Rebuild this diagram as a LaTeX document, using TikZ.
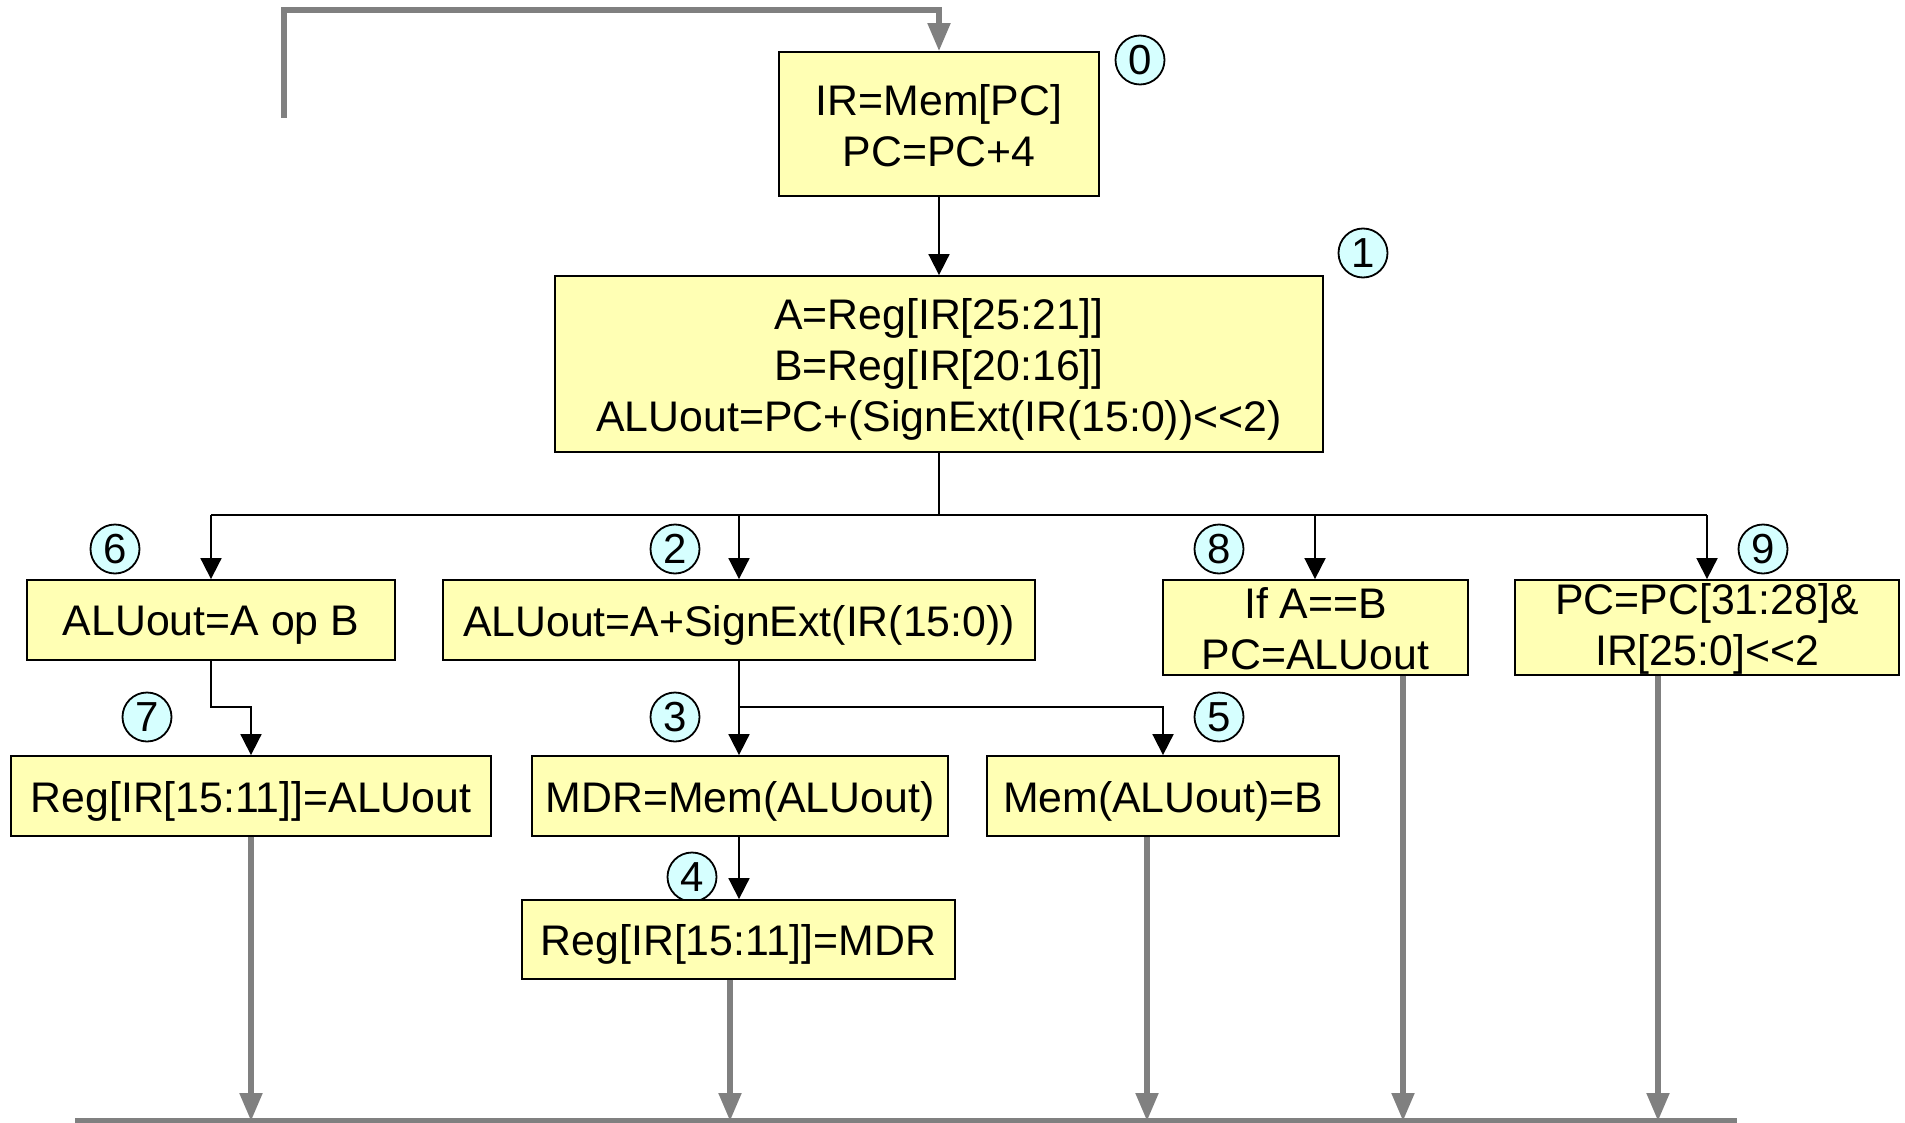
\documentclass[tikz,border=0pt]{standalone}
\usepackage{fontspec}
\setmainfont{Liberation Sans}
\usetikzlibrary{arrows.meta}
\definecolor{boxyellow}{RGB}{255,255,180}
\definecolor{circcyan}{RGB}{214,255,255}
\definecolor{flowgray}{RGB}{128,128,128}
\begin{document}
\begin{tikzpicture}[x=0.5pt,y=-0.5pt,
  statebox/.style={draw=black, line width=0.9pt, fill=boxyellow, inner sep=0pt},
  boxtext/.style={inner sep=0pt, align=center, font=\fontsize{21.4}{25.5}\selectfont},
  stepnum/.style={circle, draw=black, line width=0.9pt, fill=circcyan, minimum size=24.5pt, inner sep=0pt,
    font=\fontsize{21}{25}\selectfont},
  blk/.style={draw=black, line width=0.9pt},
  blkarrow/.style={blk, -{Triangle[width=10.5pt,length=10.5pt]}},
  grayline/.style={draw=flowgray, line width=2.6pt},
  grayarrow/.style={grayline, -{Triangle[width=11pt,length=14pt]}}
]
\useasboundingbox (0,0) rectangle (1905,1123);

% step numbers
\node[stepnum] (c0) at (1140,60) {0};
\node[stepnum] (c1) at (1363,253) {1};
\node[stepnum] (c6) at (115,549) {6};
\node[stepnum] (c2) at (675,549) {2};
\node[stepnum] (c8) at (1219,549) {8};
\node[stepnum] (c9) at (1763,549) {9};
\node[stepnum] (c7) at (147,717) {7};
\node[stepnum] (c3) at (675,717) {3};
\node[stepnum] (c5) at (1219,717) {5};
\node[stepnum] (c4) at (692,877) {4};

% boxes
\node[statebox, minimum width=160pt, minimum height=72pt] (b0) at (939,124) {};
\node[statebox, minimum width=384pt, minimum height=88pt] (b1) at (939,364) {};
\node[statebox, minimum width=184pt, minimum height=40pt] (b6) at (211,620) {};
\node[statebox, minimum width=296pt, minimum height=40pt] (b2) at (739,620) {};
\node[statebox, minimum width=152.5pt, minimum height=47.5pt] (b8) at (1315.5,627.5) {};
\node[statebox, minimum width=192pt, minimum height=47.5pt] (b9) at (1707,627.5) {};
\node[statebox, minimum width=240pt, minimum height=40pt] (b7) at (251,796) {};
\node[statebox, minimum width=208pt, minimum height=40pt] (b3) at (740,796) {};
\node[statebox, minimum width=176pt, minimum height=40pt] (b5) at (1163,796) {};
\node[statebox, minimum width=216.5pt, minimum height=39.5pt] (b4) at (738.5,939.5) {};

% box texts
\node[boxtext] (t0) at ([yshift=-0.8pt]b0.center) {IR=Mem[PC]\\PC=PC+4};
\node[boxtext] (t1) at ([yshift=-2.5pt]b1.center)
  {A=Reg[IR[25:21]]\\B=Reg[IR[20:16]]\\ALUout=PC+(SignExt(IR(15:0))<{}<2)};
\node[boxtext] (t6) at ([yshift=-2.5pt]b6.center) {ALUout=A op B};
\node[boxtext] (t2) at ([yshift=-2.5pt]b2.center) {ALUout=A+SignExt(IR(15:0))};
\node[boxtext] (t8) at ([yshift=-0.8pt]b8.center) {If A==B\\PC=ALUout};
\node[boxtext] (t9) at ([yshift=-0.8pt]b9.center) {PC=PC[31:28]\&\\IR[25:0]<{}<2};
\node[boxtext] (t7) at ([yshift=-2.5pt]b7.center) {Reg[IR[15:11]]=ALUout};
\node[boxtext] (t3) at ([yshift=-2.5pt]b3.center) {MDR=Mem(ALUout)};
\node[boxtext] (t5) at ([yshift=-2.5pt]b5.center) {Mem(ALUout)=B};
\node[boxtext] (t4) at ([yshift=-2.5pt]b4.center) {Reg[IR[15:11]]=MDR};

% top feedback
\coordinate (fbstart) at (284,118);
\coordinate (fbtop) at (284,10);
\draw[grayarrow] (fbstart) -- (fbtop) -- (fbtop -| b0.north) -- (b0.north);

% black connectors
\draw[blkarrow] (b0.south) -- (b1.north);
\coordinate (split1) at (939,515);
\coordinate (s6) at (211,515);
\coordinate (s2) at (739,515);
\coordinate (s8) at (1315,515);
\coordinate (s9) at (1707,515);
\draw[blk] (b1.south) -- (split1);
\draw[blk] (s6) -- (s9);
\draw[blkarrow] (s6) -- (s6 |- b6.north);
\draw[blkarrow] (s2) -- (s2 |- b2.north);
\draw[blkarrow] (s8) -- (s8 |- b8.north);
\draw[blkarrow] (s9) -- (s9 |- b9.north);

\coordinate (k6) at (211,707);
\coordinate (k7) at (251,707);
\draw[blkarrow] (b6.south -| k6) -- (k6) -- (k7) -- (k7 |- b7.north);

\coordinate (k2) at (739,707);
\coordinate (k5) at (1163,707);
\draw[blkarrow] (b2.south -| k2) -- (k2) -- (k2 |- b3.north);
\draw[blkarrow] (k2) -- (k5) -- (b5.north);
\draw[blkarrow] (b3.south -| k2) -- (k2 |- b4.north);

% bottom gray arrows
\coordinate (bl) at (75,1121);
\coordinate (br) at (1737,1121);
\draw[grayline] (bl) -- (br);
\coordinate (e7) at (251,1121);
\coordinate (e4) at (730,1121);
\coordinate (e5) at (1147,1121);
\coordinate (e8) at (1403,1121);
\coordinate (e9) at (1658,1121);
\draw[grayarrow] (b7.south -| e7) -- (e7);
\draw[grayarrow] (b4.south -| e4) -- (e4);
\draw[grayarrow] (b5.south -| e5) -- (e5);
\draw[grayarrow] (b8.south -| e8) -- (e8);
\draw[grayarrow] (b9.south -| e9) -- (e9);
\end{tikzpicture}
\end{document}
